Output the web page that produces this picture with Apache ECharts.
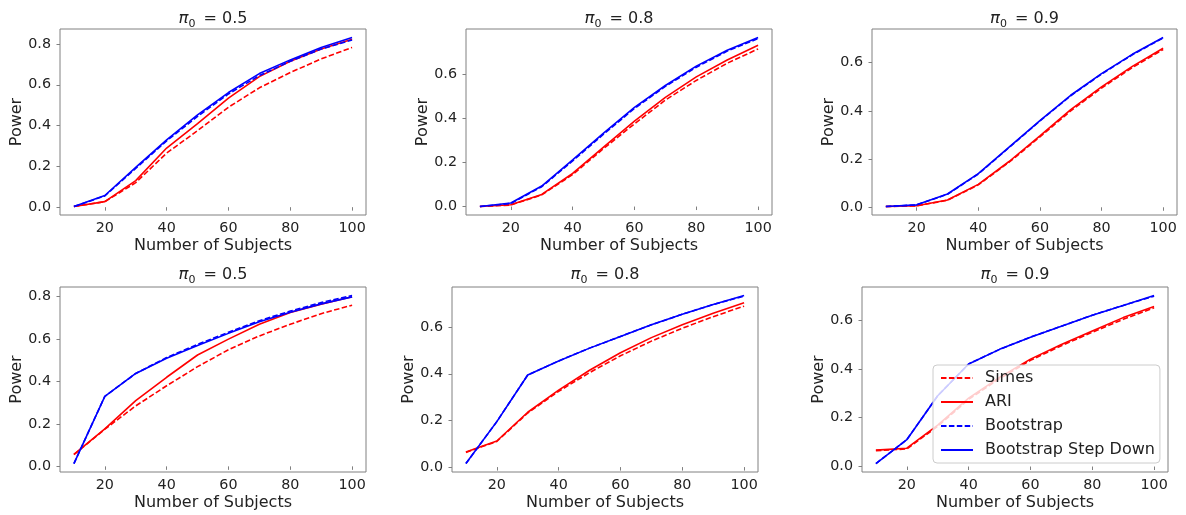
<!DOCTYPE html>
<html><head><meta charset="utf-8">
<script src="https://cdn.jsdelivr.net/npm/echarts@6/dist/echarts.min.js"></script>
<style>html,body{margin:0;padding:0;background:#fff}#c{width:1186px;height:515px}</style>
</head><body><div id="c"></div>
<script>
// ---------- data ----------
const subjects = [10, 20, 30, 40, 50, 60, 70, 80, 90, 100];
const seriesNames = ['Simes', 'ARI', 'Bootstrap', 'Bootstrap Step Down'];
const panelPi0 = ['0.5', '0.8', '0.9', '0.5', '0.8', '0.9'];

// top row, pi0 = 0.5
const simesA = [0.003, 0.027, 0.12, 0.265, 0.375, 0.49, 0.585, 0.66, 0.727, 0.783];
const ariA   = [0.003, 0.027, 0.13, 0.29, 0.41, 0.535, 0.64, 0.715, 0.775, 0.823];
const bootA  = [0.003, 0.055, 0.19, 0.325, 0.445, 0.555, 0.645, 0.715, 0.775, 0.82];
const stepA  = [0.003, 0.057, 0.195, 0.33, 0.452, 0.562, 0.655, 0.722, 0.783, 0.832];
// top row, pi0 = 0.8
const simesB = [0.0, 0.007, 0.053, 0.145, 0.263, 0.375, 0.483, 0.572, 0.65, 0.715];
const ariB   = [0.0, 0.008, 0.055, 0.15, 0.27, 0.387, 0.495, 0.588, 0.665, 0.732];
const bootB  = [0.0, 0.014, 0.09, 0.207, 0.328, 0.445, 0.545, 0.632, 0.705, 0.762];
const stepB  = [0.0, 0.016, 0.093, 0.212, 0.333, 0.45, 0.549, 0.637, 0.709, 0.767];
// top row, pi0 = 0.9
const simesC = [0.003, 0.006, 0.029, 0.093, 0.187, 0.292, 0.4, 0.495, 0.58, 0.655];
const ariC   = [0.003, 0.006, 0.03, 0.095, 0.19, 0.296, 0.405, 0.5, 0.585, 0.66];
const bootC  = [0.003, 0.01, 0.054, 0.138, 0.248, 0.358, 0.463, 0.553, 0.633, 0.703];
const stepC  = [0.003, 0.01, 0.055, 0.14, 0.25, 0.36, 0.465, 0.555, 0.635, 0.705];
// bottom row, pi0 = 0.5
const simesD = [0.055, 0.175, 0.285, 0.38, 0.47, 0.55, 0.615, 0.67, 0.72, 0.76];
const ariD   = [0.057, 0.177, 0.31, 0.42, 0.525, 0.6, 0.67, 0.725, 0.765, 0.8];
const bootD  = [0.013, 0.33, 0.438, 0.513, 0.575, 0.632, 0.687, 0.732, 0.772, 0.806];
const stepD  = [0.013, 0.33, 0.438, 0.51, 0.57, 0.627, 0.682, 0.727, 0.766, 0.799];
// bottom row, pi0 = 0.8
const simesE = [0.063, 0.11, 0.232, 0.325, 0.405, 0.477, 0.54, 0.595, 0.645, 0.69];
const ariE   = [0.065, 0.112, 0.235, 0.33, 0.415, 0.49, 0.555, 0.61, 0.66, 0.705];
const bootE  = [0.015, 0.195, 0.395, 0.455, 0.51, 0.56, 0.61, 0.655, 0.697, 0.733];
const stepE  = [0.015, 0.195, 0.395, 0.455, 0.51, 0.56, 0.61, 0.655, 0.697, 0.736];
// bottom row, pi0 = 0.9
const simesF = [0.065, 0.072, 0.165, 0.275, 0.36, 0.435, 0.495, 0.55, 0.603, 0.65];
const ariF   = [0.067, 0.075, 0.17, 0.28, 0.365, 0.44, 0.5, 0.555, 0.61, 0.656];
const bootF  = [0.012, 0.11, 0.29, 0.42, 0.48, 0.53, 0.575, 0.62, 0.66, 0.698];
const stepF  = [0.012, 0.11, 0.29, 0.42, 0.48, 0.53, 0.575, 0.62, 0.66, 0.701];

const xTickValues = [20, 40, 60, 80, 100];
const yTicksTo08 = [0, 0.2, 0.4, 0.6, 0.8];
const yTicksTo06 = [0, 0.2, 0.4, 0.6];

// ---------- layout ----------
const panels = [
  { data: [simesA, ariA, bootA, stepA], yTicks: yTicksTo08, grid: [60, 29, 306, 186] },
  { data: [simesB, ariB, bootB, stepB], yTicks: yTicksTo06, grid: [466, 29, 306, 186] },
  { data: [simesC, ariC, bootC, stepC], yTicks: yTicksTo06, grid: [872, 29, 305, 186] },
  { data: [simesD, ariD, bootD, stepD], yTicks: yTicksTo08, grid: [60, 287, 306, 185] },
  { data: [simesE, ariE, bootE, stepE], yTicks: yTicksTo06, grid: [452, 287, 306, 185] },
  { data: [simesF, ariF, bootF, stepF], yTicks: yTicksTo06, grid: [862, 287, 306, 185] }
];
const lineStyles = [
  { color: '#ff0000', type: [5.5, 2.4] },
  { color: '#ff0000', type: 'solid' },
  { color: '#0000ff', type: [5.5, 2.4] },
  { color: '#0000ff', type: 'solid' }
];
const FONT = 'DejaVu Sans';
const TXT = '#222222';
const SPINE = '#808080';

const grids = [], xAxes = [], yAxes = [], series = [], titles = [];
const xMinD = Math.min(...subjects), xMaxD = Math.max(...subjects);
const xPad = (xMaxD - xMinD) * 0.05;

panels.forEach((p, i) => {
  const [l, t, w, h] = p.grid;
  grids.push({ left: l, top: t, width: w, height: h, show: true, borderColor: SPINE, borderWidth: 1, backgroundColor: 'transparent' });
  const all = p.data.flat();
  const yMinD = Math.min(...all), yMaxD = Math.max(...all);
  const yPad = (yMaxD - yMinD) * 0.05;
  xAxes.push({
    type: 'value', gridIndex: i, min: xMinD - xPad, max: xMaxD + xPad,
    name: 'Number of Subjects', nameLocation: 'middle', nameGap: 23,
    nameTextStyle: { fontFamily: FONT, fontSize: 16, color: TXT },
    axisLine: { show: false },
    axisTick: { show: true, inside: false, length: 3.5, lineStyle: { color: SPINE }, customValues: xTickValues },
    axisLabel: { fontFamily: FONT, fontSize: 14.3, color: TXT, margin: 6, customValues: xTickValues },
    splitLine: { show: false }
  });
  yAxes.push({
    type: 'value', gridIndex: i, min: yMinD - yPad, max: yMaxD + yPad,
    name: 'Power', nameLocation: 'middle', nameGap: 35,
    nameTextStyle: { fontFamily: FONT, fontSize: 16, color: TXT },
    axisLine: { show: false },
    axisTick: { show: true, inside: false, length: 3.5, lineStyle: { color: SPINE }, customValues: p.yTicks },
    axisLabel: { fontFamily: FONT, fontSize: 14.3, color: TXT, margin: 9, customValues: p.yTicks, formatter: v => v.toFixed(1) },
    splitLine: { show: false }
  });
  titles.push({
    text: '{pi|π}{sub|0}{eq|\u2002= }{num|' + panelPi0[i] + '}',
    left: l + w / 2, top: (i < 3 ? 8 : 264), textAlign: 'center', padding: 0,
    textStyle: {
      fontFamily: FONT, fontSize: 16, fontWeight: 'normal', color: TXT, lineHeight: 22,
      rich: {
        pi: { fontFamily: FONT, fontStyle: 'italic', fontSize: 16.5, color: TXT, lineHeight: 22 },
        sub: { fontFamily: FONT, fontSize: 11, color: TXT, lineHeight: 22, verticalAlign: 'bottom' },
        eq: { fontFamily: FONT, fontSize: 16, color: TXT, lineHeight: 22 },
        num: { fontFamily: FONT, fontSize: 16, color: TXT, lineHeight: 22 }
      }
    }
  });
  p.data.forEach((vals, k) => {
    series.push({
      name: seriesNames[k], type: 'line', xAxisIndex: i, yAxisIndex: i,
      data: subjects.map((x, j) => [x, vals[j]]),
      showSymbol: false, symbol: 'none', smooth: false,
      lineStyle: { width: 1.6, color: lineStyles[k].color, type: lineStyles[k].type },
      itemStyle: { color: lineStyles[k].color },
      emphasis: { disabled: true }, z: 2 + k * 0.1
    });
  });
});

const chart = echarts.init(document.getElementById('c'), null, { renderer: 'canvas' });
chart.setOption({
  animation: false,
  backgroundColor: '#ffffff',
  title: titles,
  grid: grids, xAxis: xAxes, yAxis: yAxes, series: series,
  legend: {
    data: seriesNames, orient: 'vertical', left: 933, top: 365,
    padding: [5, 5, 5, 7], itemGap: 8, itemWidth: 32, itemHeight: 16,
    backgroundColor: 'rgba(255,255,255,0.8)', borderColor: '#cccccc', borderWidth: 1, borderRadius: 4,
    itemStyle: { opacity: 0, borderWidth: 0 },
    textStyle: { fontFamily: FONT, fontSize: 16, color: TXT, padding: [0, 0, 0, 7] },
    selectedMode: false, z: 10
  }
});
</script></body></html>
